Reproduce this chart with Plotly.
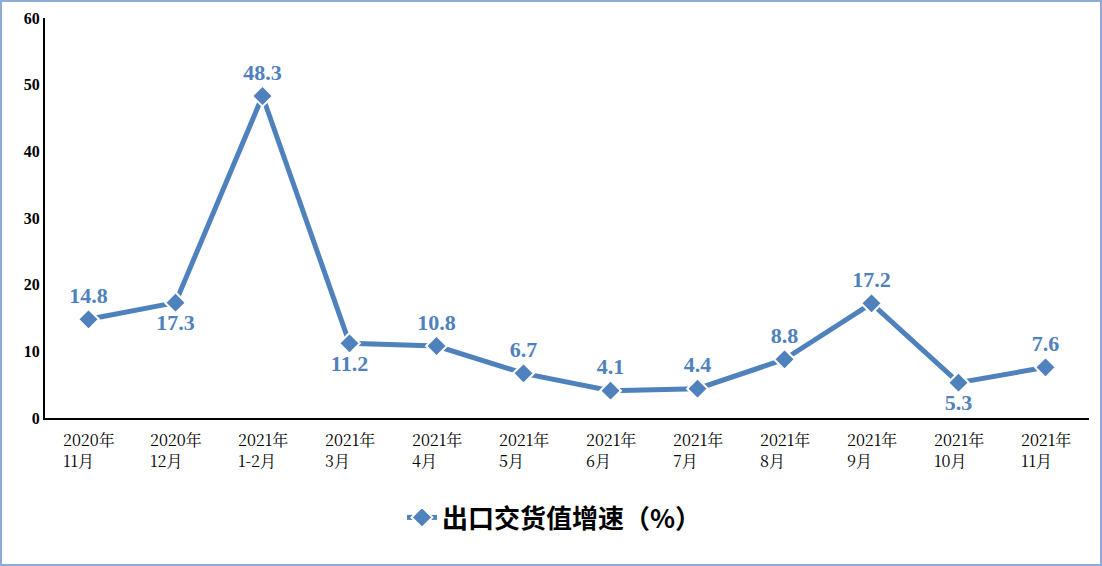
import plotly.graph_objects as go

categories = ["2020年<br>11月", "2020年<br>12月", "2021年<br>1-2月", "2021年<br>3月", "2021年<br>4月",
              "2021年<br>5月", "2021年<br>6月", "2021年<br>7月", "2021年<br>8月", "2021年<br>9月",
              "2021年<br>10月", "2021年<br>11月"]
values = [14.8, 17.3, 48.3, 11.2, 10.8, 6.7, 4.1, 4.4, 8.8, 17.2, 5.3, 7.6]
label_pos = ["top center", "bottom center", "top center", "bottom center", "top center", "top center",
             "top center", "top center", "top center", "top center", "bottom center", "top center"]
y_ticks = [0, 10, 20, 30, 40, 50, 60]
series_name = "出口交货值增速（%）"

blue = "#4f81bd"
xs = list(range(len(categories)))

fig = go.Figure()
fig.add_trace(go.Scatter(
    x=xs, y=values, mode="lines+markers+text", name=series_name,
    line=dict(color=blue, width=5),
    marker=dict(symbol="diamond", size=16, color=blue, line=dict(color="white", width=2)),
    text=[f"{v:.1f}" for v in values], textposition=label_pos,
    textfont=dict(family="Liberation Serif", size=22, color=blue, weight="bold"),
    cliponaxis=False,
))

for i, c in enumerate(categories):
    fig.add_annotation(x=i, y=0, xref="x", yref="y", yanchor="top", xanchor="center",
                       yshift=-8, text=c, showarrow=False, align="left",
                       font=dict(family="Noto Serif CJK SC, Noto Sans CJK SC", size=16, color="black"))

fig.update_layout(
    width=1102, height=566, paper_bgcolor="white", plot_bgcolor="white",
    margin=dict(l=45, r=13, t=18, b=148),
    showlegend=True,
    legend=dict(orientation="h", x=0.488, xanchor="center", y=-0.19, yanchor="top",
                font=dict(family="Noto Sans CJK SC", size=26, color="black", weight="bold")),
    xaxis=dict(range=[-0.5, 11.5], showticklabels=False, showgrid=False, zeroline=False,
               showline=True, linecolor="black", linewidth=2, ticks=""),
    yaxis=dict(range=[0, 60], tickvals=y_ticks, showgrid=False, zeroline=False,
               showline=True, linecolor="black", linewidth=2, ticks="", automargin=False,
               tickfont=dict(family="Liberation Serif", size=16, color="black", weight="bold")),
)
fig.add_shape(type="rect", xref="paper", yref="paper",
              x0=-44/1044, x1=1+12/1044, y0=-147/400, y1=1+17/400,
              line=dict(color="#8eaadb", width=2))

fig.write_html("out.html", config={"displayModeBar": False},
               post_script="document.body.style.margin='0';document.body.style.padding='0';")
